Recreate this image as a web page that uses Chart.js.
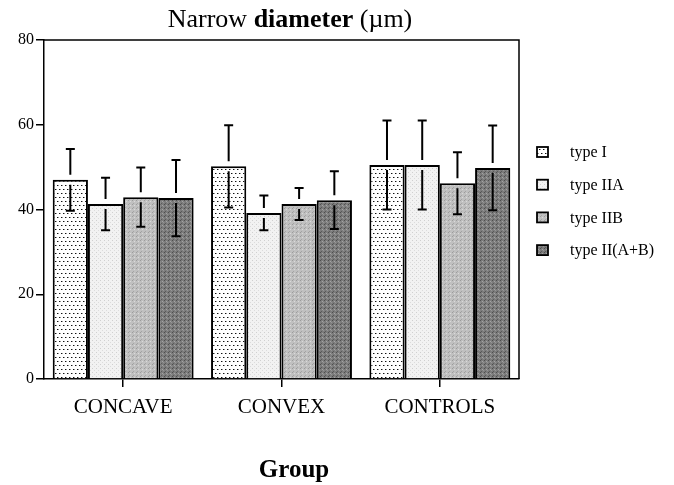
<!DOCTYPE html>
<html>
<head>
<meta charset="utf-8">
<script src="https://cdn.jsdelivr.net/npm/chart.js@4"></script>
<style>
  html, body { margin: 0; padding: 0; background: #fff; }
  #wrap { width: 674px; height: 485px; }
</style>
</head>
<body>
<div id="wrap"><canvas id="chart" width="674" height="485"></canvas></div>
<script>
var groups = ["CONCAVE", "CONVEX", "CONTROLS"];
var seriesNames = ["type I", "type IIA", "type IIB", "type II(A+B)"];
var typeI = [47.0, 50.2, 50.5];
var typeIIA = [41.3, 39.2, 50.5];
var typeIIB = [42.9, 41.3, 46.2];
var typeIIAB = [42.7, 42.2, 49.8];
var sdTypeI = [7.3, 9.7, 10.5];
var sdTypeIIA = [6.2, 4.1, 10.5];
var sdTypeIIB = [7.0, 3.8, 7.3];
var sdTypeIIAB = [9.0, 6.8, 10.0];
var yTicks = [0, 20, 40, 60, 80];

var serif = "'Liberation Serif', 'DejaVu Serif', serif";

function makePattern(base, dots, size) {
    var c = document.createElement("canvas");
    c.width = size; c.height = size;
    var g = c.getContext("2d");
    g.fillStyle = base;
    g.fillRect(0, 0, size, size);
    for (var i = 0; i < dots.length; i++) {
        g.fillStyle = dots[i][2];
        g.fillRect(dots[i][0], dots[i][1], dots[i][3] || 1, dots[i][3] || 1);
    }
    return g.createPattern(c, "repeat");
}

var fills = [
    makePattern("#ffffff", [[1, 1, "#111"], [5, 1, "#111"], [3, 5, "#111"], [7, 5, "#111"],
                            [2, 1, "#999"], [6, 1, "#999"], [4, 5, "#999"], [0, 5, "#999"]], 8),
    makePattern("#f2f2f2", [[0, 0, "#d0d0d0"], [2, 2, "#dcdcdc"]], 4),
    makePattern("#c0c0c0", [[0, 0, "#9c9c9c"], [2, 1, "#dadada"], [1, 3, "#a4a4a4"]], 4),
    makePattern("#7c7c7c", [[0, 0, "#4e4e4e"], [2, 1, "#a4a4a4"], [1, 3, "#5a5a5a"], [3, 2, "#959595"]], 4)
];

var values = [typeI, typeIIA, typeIIB, typeIIAB];
var sds = [sdTypeI, sdTypeIIA, sdTypeIIB, sdTypeIIAB];

var datasets = [];
for (var i = 0; i < seriesNames.length; i++) {
    datasets.push({
        label: seriesNames[i],
        data: values[i],
        sd: sds[i],
        backgroundColor: fills[i],
        borderColor: "#000",
        borderWidth: 2,
        barPercentage: 1.0,
        categoryPercentage: 0.89
    });
}

// error bars, frame, title, legend and axis title
var extras = {
    id: "extras",
    afterDatasetsDraw: function (chart) {
        var ctx = chart.ctx;
        var ys = chart.scales.y;
        ctx.save();
        ctx.strokeStyle = "#000";
        ctx.lineWidth = 2;
        chart.data.datasets.forEach(function (ds, di) {
            var meta = chart.getDatasetMeta(di);
            meta.data.forEach(function (bar, j) {
                var v = ds.data[j], s = ds.sd[j];
                var x = bar.x;
                var yHi = ys.getPixelForValue(v + s);
                var yLo = ys.getPixelForValue(v - s);
                var yM = bar.y;
                ctx.beginPath();
                ctx.moveTo(x, yHi); ctx.lineTo(x, yM - 5);
                ctx.moveTo(x, yM + 5); ctx.lineTo(x, yLo);
                ctx.moveTo(x - 4.5, yHi); ctx.lineTo(x + 4.5, yHi);
                ctx.moveTo(x - 4.5, yLo); ctx.lineTo(x + 4.5, yLo);
                ctx.stroke();
            });
        });
        ctx.restore();
    },
    afterDraw: function (chart) {
        var ctx = chart.ctx;
        var a = chart.chartArea;
        ctx.save();
        ctx.strokeStyle = "#000";
        ctx.lineWidth = 1.5;
        ctx.beginPath();
        ctx.moveTo(a.left, a.top);
        ctx.lineTo(a.right, a.top);
        ctx.lineTo(a.right, a.bottom);
        ctx.stroke();

        // title with a bold middle word
        ctx.fillStyle = "#000";
        ctx.textBaseline = "alphabetic";
        var parts = [["Narrow ", "normal"], ["diameter", "bold"], [" (\u00b5m)", "normal"]];
        var total = 0;
        parts.forEach(function (p) {
            ctx.font = p[1] + " 26px " + serif;
            total += ctx.measureText(p[0]).width;
        });
        var tx = 290 - total / 2;
        parts.forEach(function (p) {
            ctx.font = p[1] + " 26px " + serif;
            ctx.fillText(p[0], tx, 27);
            tx += ctx.measureText(p[0]).width;
        });

        // x axis title
        ctx.font = "bold 25px " + serif;
        ctx.textAlign = "center";
        ctx.fillText("Group", 294, 477);

        // legend
        ctx.textAlign = "left";
        ctx.textBaseline = "middle";
        ctx.font = "16px " + serif;
        chart.data.datasets.forEach(function (ds, i) {
            var cy = 152 + i * 32.7;
            ctx.fillStyle = ds.backgroundColor;
            ctx.fillRect(537, cy - 5, 11, 10);
            ctx.lineWidth = 1.8;
            ctx.strokeRect(537, cy - 5, 11, 10);
            ctx.fillStyle = "#000";
            ctx.fillText(ds.label, 570, cy + 1);
        });
        ctx.restore();
    }
};

new Chart(document.getElementById("chart"), {
    type: "bar",
    data: { labels: groups, datasets: datasets },
    options: {
        responsive: false,
        animation: false,
        devicePixelRatio: 1,
        layout: { padding: { top: 40, right: 155, left: 0, bottom: 0 } },
        plugins: {
            legend: { display: false },
            title: { display: false },
            tooltip: { enabled: false }
        },
        scales: {
            x: {
                afterFit: function (s) { s.height = 106; },
                grid: {
                    offset: false,
                    drawOnChartArea: false,
                    drawTicks: true,
                    tickLength: 8,
                    color: "#000",
                    lineWidth: 1.5
                },
                border: { color: "#000", width: 1.5 },
                ticks: {
                    color: "#000",
                    padding: 8,
                    font: { family: serif, size: 21 }
                }
            },
            y: {
                min: 0,
                max: 80,
                afterFit: function (s) { s.width = 44; },
                afterBuildTicks: function (s) {
                    s.ticks = yTicks.map(function (v) { return { value: v }; });
                },
                grid: {
                    drawOnChartArea: false,
                    drawTicks: true,
                    tickLength: 8,
                    color: "#000",
                    lineWidth: 1.5
                },
                border: { color: "#000", width: 1.5 },
                ticks: {
                    color: "#000",
                    padding: 2,
                    font: { family: serif, size: 16 }
                }
            }
        }
    },
    plugins: [extras]
});
</script>
</body>
</html>
